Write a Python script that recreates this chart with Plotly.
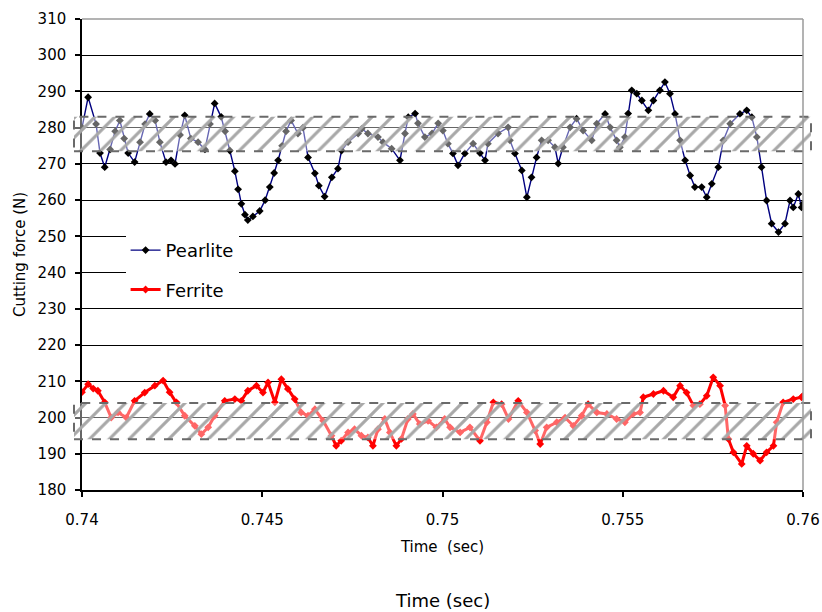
import plotly.graph_objects as go

# Cutting force traces sampled over 0.74-0.76 s
pearlite_time = [
    0.74000, 0.74017, 0.74039, 0.74050, 0.74063, 0.74078, 0.74092, 0.74105, 0.74117, 0.74128,
    0.74146, 0.74161, 0.74175, 0.74188, 0.74203, 0.74216, 0.74233, 0.74247, 0.74258, 0.74272,
    0.74285, 0.74302, 0.74322, 0.74341, 0.74355, 0.74368, 0.74386, 0.74397, 0.74410, 0.74424,
    0.74433, 0.74442, 0.74452, 0.74460, 0.74474, 0.74493, 0.74508, 0.74521, 0.74533, 0.74544,
    0.74555, 0.74566, 0.74580, 0.74599, 0.74613, 0.74627, 0.74646, 0.74657, 0.74673, 0.74693,
    0.74710, 0.74720, 0.74738, 0.74766, 0.74776, 0.74793, 0.74821, 0.74835, 0.74859, 0.74882,
    0.74896, 0.74905, 0.74924, 0.74932, 0.74951, 0.74971, 0.74988, 0.75001, 0.75015, 0.75029,
    0.75043, 0.75062, 0.75085, 0.75104, 0.75118, 0.75126, 0.75154, 0.75182, 0.75187, 0.75201,
    0.75220, 0.75234, 0.75247, 0.75261, 0.75275, 0.75293, 0.75312, 0.75321, 0.75334, 0.75354,
    0.75372, 0.75390, 0.75414, 0.75428, 0.75451, 0.75465, 0.75483, 0.75492, 0.75506, 0.75515,
    0.75525, 0.75539, 0.75553, 0.75571, 0.75585, 0.75603, 0.75617, 0.75631, 0.75645, 0.75659,
    0.75673, 0.75687, 0.75700, 0.75719, 0.75733, 0.75747, 0.75765, 0.75779, 0.75798, 0.75825,
    0.75844, 0.75858, 0.75872, 0.75885, 0.75899, 0.75913, 0.75932, 0.75950, 0.75964, 0.75973,
    0.75987, 0.75996, 0.76000,
]
pearlite_force = [
    280.0, 288.4, 281.0, 273.0, 269.1, 274.0, 279.0, 282.0, 277.0, 273.0,
    270.5, 276.0, 281.0, 283.8, 282.0, 276.0, 270.5, 271.0, 270.0, 278.0,
    283.4, 277.0, 276.0, 274.0, 281.0, 286.7, 283.0, 279.0, 273.7, 268.0,
    263.0, 259.0, 256.0, 254.5, 255.5, 257.0, 260.0, 263.6, 267.5, 271.0,
    275.0, 279.0, 282.0, 278.4, 280.0, 271.8, 267.4, 264.0, 261.0, 266.3,
    268.7, 273.7, 276.0, 278.4, 279.7, 278.4, 277.4, 276.0, 274.2, 271.0,
    278.4, 282.9, 283.9, 281.2, 277.4, 278.4, 281.2, 279.2, 275.6, 272.9,
    269.6, 272.9, 275.6, 273.0, 271.0, 275.6, 278.4, 280.1, 276.5, 272.9,
    268.2, 260.8, 266.3, 271.8, 276.5, 276.5, 274.6, 270.1, 274.6, 280.1,
    282.5, 279.2, 276.5, 281.1, 283.8, 280.1, 276.5, 274.6, 277.4, 283.9,
    290.3, 289.4, 287.5, 284.8, 287.5, 290.3, 292.6, 289.4, 283.8, 276.5,
    271.0, 266.8, 263.6, 263.6, 260.8, 264.5, 269.1, 276.5, 281.1, 283.8,
    284.8, 282.9, 277.4, 269.1, 259.9, 253.5, 251.2, 253.5, 259.9, 258.0,
    261.7, 258.0, 259.0,
]

ferrite_time = [
    0.74000, 0.74017, 0.74031, 0.74044, 0.74063, 0.74081, 0.74100, 0.74123, 0.74146, 0.74174,
    0.74202, 0.74225, 0.74243, 0.74262, 0.74285, 0.74313, 0.74331, 0.74350, 0.74368, 0.74396,
    0.74424, 0.74442, 0.74460, 0.74484, 0.74502, 0.74516, 0.74535, 0.74553, 0.74571, 0.74590,
    0.74608, 0.74627, 0.74646, 0.74669, 0.74692, 0.74705, 0.74719, 0.74738, 0.74756, 0.74775,
    0.74793, 0.74807, 0.74821, 0.74840, 0.74854, 0.74872, 0.74886, 0.74904, 0.74918, 0.74937,
    0.74960, 0.74983, 0.75006, 0.75021, 0.75049, 0.75076, 0.75104, 0.75123, 0.75141, 0.75164,
    0.75183, 0.75210, 0.75234, 0.75257, 0.75271, 0.75289, 0.75317, 0.75340, 0.75363, 0.75386,
    0.75404, 0.75428, 0.75456, 0.75483, 0.75506, 0.75529, 0.75548, 0.75557, 0.75585, 0.75613,
    0.75640, 0.75659, 0.75677, 0.75696, 0.75714, 0.75733, 0.75751, 0.75770, 0.75784, 0.75793,
    0.75807, 0.75830, 0.75844, 0.75862, 0.75881, 0.75899, 0.75918, 0.75927, 0.75945, 0.75973,
    0.75996, 0.76000,
]
ferrite_force = [
    207.0, 209.2, 208.0, 207.4, 204.2, 200.0, 201.4, 200.0, 204.6, 206.9,
    208.8, 210.2, 207.0, 204.2, 200.5, 197.7, 195.4, 197.3, 200.5, 204.6,
    205.1, 204.6, 207.4, 208.8, 206.9, 209.7, 204.2, 210.6, 207.9, 205.1,
    201.4, 200.5, 202.3, 199.1, 195.0, 192.2, 193.6, 195.9, 196.8, 195.0,
    194.5, 192.2, 196.8, 199.6, 195.9, 192.2, 194.1, 199.6, 201.0, 198.2,
    199.1, 197.3, 199.6, 197.3, 195.9, 197.3, 193.6, 198.7, 204.2, 203.7,
    199.6, 204.6, 201.4, 196.4, 192.7, 197.3, 198.7, 200.0, 197.7, 200.5,
    203.7, 201.4, 201.0, 199.6, 198.7, 201.0, 201.4, 205.6, 206.5, 207.4,
    205.6, 208.8, 206.9, 203.3, 203.7, 206.0, 211.1, 208.8, 203.3, 194.1,
    190.4, 187.2, 192.2, 190.0, 188.1, 190.4, 192.2, 198.7, 204.2, 205.1,
    205.6, 206.0,
]

# Tolerance bands (lower / upper force, N)
band_low = [273.5, 194.0]
band_high = [283.0, 204.0]

x_ticks = [0.74, 0.745, 0.75, 0.755, 0.76]
x_tick_text = ["0.74", "0.745", "0.75", "0.755", "0.76"]
y_ticks = list(range(180, 311, 10))

FONT = "DejaVu Sans"

fig = go.Figure()

fig.add_trace(go.Scatter(
    x=pearlite_time, y=pearlite_force, name="Pearlite", mode="lines+markers",
    line=dict(color="#000080", width=1.4),
    marker=dict(symbol="diamond", size=6, color="black"),
    legendgroup="p", xaxis="x", yaxis="y",
))
fig.add_trace(go.Scatter(
    x=ferrite_time, y=ferrite_force, name="Ferrite", mode="lines+markers",
    line=dict(color="#ff0000", width=3),
    marker=dict(symbol="diamond", size=6, color="#ff0000"),
    legendgroup="f", xaxis="x", yaxis="y",
))

# Hatched bands laid over the traces on a slightly wider overlay subplot
fig.add_trace(go.Bar(
    x=[0.5, 0.5], width=[1, 1], base=band_low,
    y=[h - l for h, l in zip(band_high, band_low)],
    marker=dict(
        color="rgba(255,255,255,0.4)",
        line=dict(width=0),
        pattern=dict(shape="/", fgcolor="#a8a8a8", bgcolor="rgba(255,255,255,0.4)",
                     size=14, solidity=0.22, fillmode="replace"),
    ),
    showlegend=False, hoverinfo="skip", xaxis="x2", yaxis="y2",
))

shapes = []
for lo, hi in zip(band_low, band_high):
    shapes.append(dict(type="rect", xref="x2 domain", yref="y2", x0=0, x1=1, y0=lo, y1=hi,
                       line=dict(color="#6a6a6a", width=2, dash="dash"), layer="above"))
# grey frame on the top and right of the plotting area
shapes.append(dict(type="line", xref="x domain", yref="y domain", x0=0, x1=1, y0=1, y1=1,
                   line=dict(color="#9a9a9a", width=1.5), layer="above"))
shapes.append(dict(type="line", xref="x domain", yref="y domain", x0=1, x1=1, y0=0, y1=1,
                   line=dict(color="#9a9a9a", width=1.5), layer="above"))

fig.update_layout(
    width=822, height=612,
    margin=dict(l=74, r=11, t=19, b=122),
    paper_bgcolor="white", plot_bgcolor="rgba(0,0,0,0)",
    font=dict(family=FONT, color="black", size=15),
    barmode="overlay",
    xaxis=dict(
        domain=[8 / 737, 729 / 737], range=[0.74, 0.76], automargin=False,
        tickvals=x_ticks, ticktext=x_tick_text,
        ticks="outside", ticklen=5, tickcolor="black", tickwidth=1.5,
        ticklabelstandoff=10,
        showline=True, linecolor="black", linewidth=1.5,
        showgrid=False, zeroline=False,
        title=dict(text="Time  (sec)", font=dict(size=15), standoff=14),
        tickfont=dict(size=15),
    ),
    yaxis=dict(
        range=[180, 310], tickvals=y_ticks, automargin=False,
        ticks="outside", ticklen=5, tickcolor="black", tickwidth=1.5,
        ticklabelstandoff=6,
        showline=True, linecolor="black", linewidth=1.5,
        showgrid=True, gridcolor="black", gridwidth=1.2,
        zeroline=False,
        title=dict(text="Cutting force (N)", font=dict(size=15), standoff=8),
        tickfont=dict(size=15),
    ),
    xaxis2=dict(domain=[0, 1], range=[0, 1], anchor="y2", visible=False, fixedrange=True),
    yaxis2=dict(domain=[0, 1], range=[180, 310], anchor="x2", visible=False, fixedrange=True),
    legend=dict(
        x=0.07, y=0.548, xanchor="left", yanchor="top",
        bgcolor="white", borderwidth=0,
        font=dict(size=18, family=FONT),
        traceorder="grouped", tracegroupgap=13,
    ),
    shapes=shapes,
    annotations=[dict(text="Time (sec)", xref="paper", yref="paper", x=0.5, y=-0.235,
                      xanchor="center", yanchor="middle", showarrow=False,
                      font=dict(size=18, family=FONT))],
)

fig.write_html("out.html")
